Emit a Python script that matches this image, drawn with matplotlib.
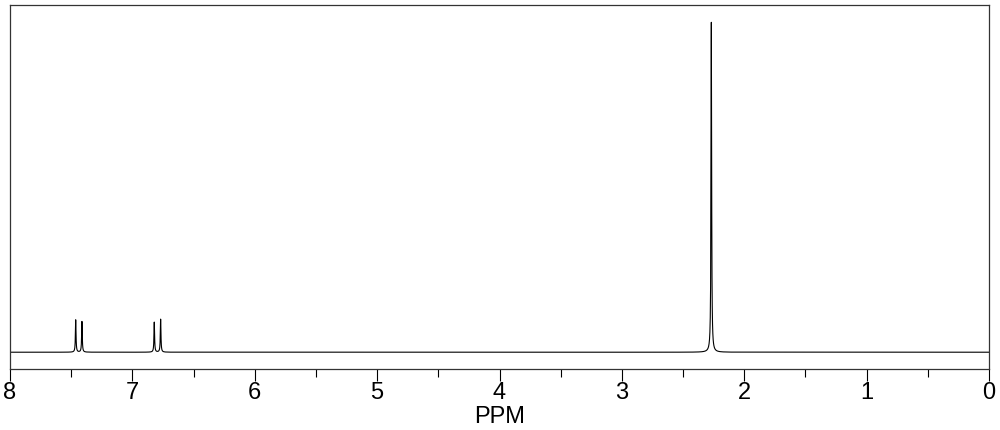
import numpy as np
import matplotlib
matplotlib.use('Agg')
import matplotlib.pyplot as plt
from matplotlib.ticker import MultipleLocator

# peak list (ppm, relative height)
peak_ppm = [7.463, 7.412, 6.821, 6.769, 2.269]
peak_height = [0.098, 0.093, 0.091, 0.100, 1.0]
peak_hwhm = 0.003

tick_values = [8, 7, 6, 5, 4, 3, 2, 1, 0]
tick_labels = ['8', '7', '6', '5', '4', '3', '2', '1', '0']

plt.rcParams['font.family'] = ['Liberation Sans', 'DejaVu Sans']

#build the lorentzian line shapes on a fine grid
ppm = np.linspace(0, 8, 32001)
intensity = np.zeros_like(ppm)
for center, height in zip(peak_ppm, peak_height):
    intensity += height * peak_hwhm**2 / ((ppm - center)**2 + peak_hwhm**2)

fig = plt.figure(figsize=(10, 4.3), dpi=100)
ax = fig.add_axes([0.01, 0.142, 0.979, 0.846])
ax.plot(ppm, intensity, color='black', linewidth=0.8)

ax.set_xlim(8, 0)
ax.set_ylim(-0.0507, 1.052)

# ticks
ax.set_xticks(tick_values)
ax.set_xticklabels(tick_labels)
ax.xaxis.set_minor_locator(MultipleLocator(0.5))
ax.tick_params(axis='x', which='major', direction='out', length=8.6, width=0.8,
               labelsize=17, pad=1)
ax.tick_params(axis='x', which='minor', direction='out', length=5.8, width=0.8)
ax.set_yticks([])

for side in ['left', 'right', 'top', 'bottom']:
    ax.spines[side].set_linewidth(0.9)
    ax.spines[side].set_color('#333333')

ax.set_xlabel('PPM', fontsize=17, labelpad=1)

plt.savefig('out.png', dpi=100)
